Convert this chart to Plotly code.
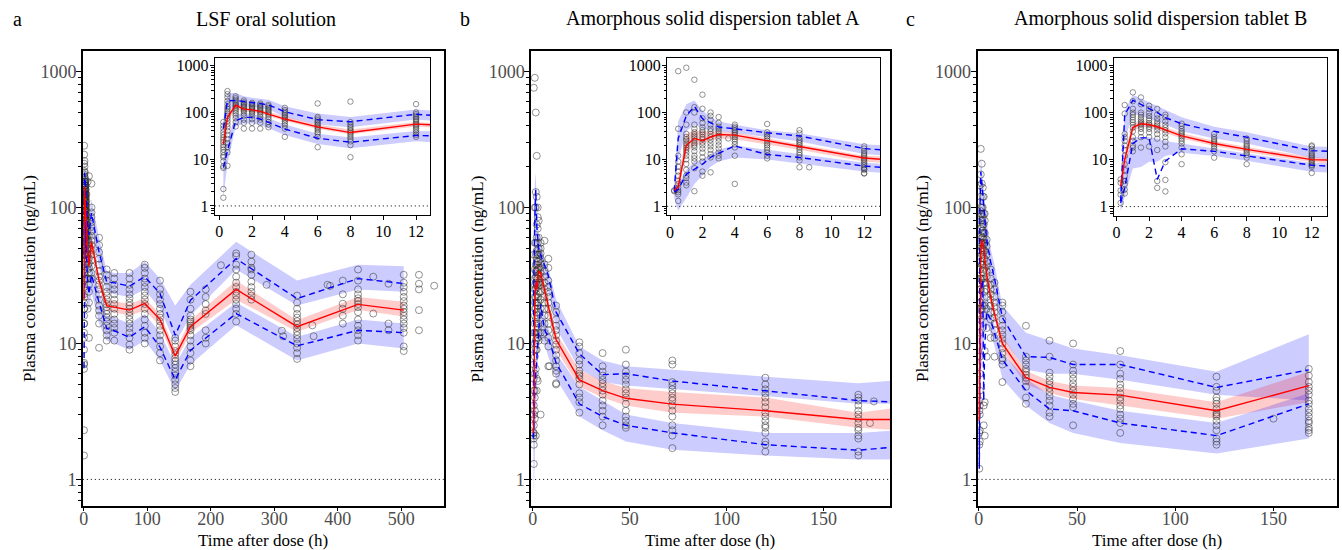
import plotly.graph_objects as go

W, H = 1342, 550
FONT = "Liberation Serif"
LLOQ = 1

# ---------------- Panel a: LSF oral solution ----------------
a_bin_t = [0.25, 0.5, 1, 1.5, 2, 2.5, 3, 4, 6, 8, 12, 24, 36, 48, 72, 96, 120, 144, 168, 240, 336, 432, 504]
a_med = [21, 78, 142, 117, 113, 105, 92, 72, 49, 37, 56, 29, 19, 18.6, 17.6, 19.7, 15, 8.1, 13.3, 25, 13.3, 19.4, 17.6]
a_p95 = [45, 177, 180, 170, 162, 155, 145, 103, 70, 63, 91, 47, 28.4, 27.9, 26.4, 31, 23.3, 11.5, 20.8, 42, 21.4, 30, 27.6]
a_p05 = [6.6, 15, 66, 78, 78, 72, 61, 44, 28, 23, 32, 20, 12.9, 12.4, 11.1, 13.3, 9.4, 5.4, 8.9, 16.6, 9.6, 12.5, 12]
a_p95_lo = [28, 110, 140, 135, 130, 122, 115, 80, 55, 48, 70, 36, 24, 23, 22, 25, 18, 10, 16, 35, 19, 25, 24]
a_p95_hi = [70, 260, 260, 220, 205, 195, 185, 135, 95, 80, 115, 60, 34, 33, 33, 40, 30, 19, 27, 56, 29, 38, 37]
a_med_lo = [16, 60, 120, 105, 100, 95, 85, 65, 44, 34, 50, 26, 17.5, 17, 16, 17.5, 13.5, 7.3, 12, 21, 12.2, 17.6, 15.8]
a_med_hi = [28, 95, 160, 130, 125, 115, 105, 82, 55, 43, 62, 32, 21, 20.5, 19.5, 21.5, 16.5, 9, 14.8, 29, 14.8, 22, 20.3]
a_p05_lo = [1.5, 8, 50, 58, 58, 54, 46, 33, 21, 17, 24, 14, 10.5, 10, 9, 10.5, 7.5, 4.5, 7, 13.6, 7.5, 10, 9.2]
a_p05_hi = [10, 25, 90, 95, 92, 85, 75, 55, 35, 29, 40, 24, 16, 15.5, 14, 16.5, 12, 7, 11, 20, 11.2, 15, 14]

a_obs_t = [0.25, 0.5, 1, 1.5, 2, 2.5, 3, 4, 6, 8, 12, 24, 36, 48, 72, 96, 120, 144, 168, 192, 240, 264, 336, 432, 504, 528]
a_obs_c = [
    [1.5, 2.3, 6.5, 7, 9, 11, 12, 14, 16, 18, 20, 23, 26, 29, 33, 38, 45, 52, 62],
    [7.2, 14, 18, 22, 27, 33, 40, 48, 56, 65, 75, 85, 95, 105, 118, 130, 150, 175, 210, 245, 285],
    [50, 62, 75, 85, 95, 105, 115, 125, 135, 145, 155, 170, 185, 200, 220],
    [45, 60, 70, 85, 95, 105, 112, 120, 128, 135, 145, 155, 165, 180],
    [45, 60, 72, 85, 95, 102, 110, 118, 125, 132, 140, 150, 160],
    [45, 60, 70, 80, 90, 98, 105, 112, 120, 128, 136, 145, 155],
    [48, 55, 62, 72, 80, 88, 95, 102, 110, 118, 125, 135, 145],
    [30, 45, 52, 58, 64, 70, 76, 82, 88, 95, 103, 112, 125],
    [18, 30, 35, 38, 42, 46, 50, 54, 58, 63, 68, 74, 80, 155],
    [11, 20, 24, 27, 30, 33, 36, 39, 42, 46, 50, 55, 62, 170],
    [30, 33, 37, 41, 45, 49, 53, 57, 62, 67, 72, 78, 85, 92, 100, 150],
    [9.3, 14, 16, 17.5, 19, 21, 23, 25, 27, 29, 31, 34, 38, 42, 47, 53, 60],
    [10.5, 11.5, 12.5, 13.5, 14.5, 15.5, 16.5, 17.5, 18.5, 19.5, 21, 22.5, 24, 26, 29, 32, 35],
    [10.5, 12, 13, 14, 15, 16.5, 18, 19.5, 21, 23, 25, 27, 30, 33],
    [9, 9.8, 11, 12, 13, 14, 15, 16, 17, 18, 19, 20, 21.5, 23, 25, 27, 30, 33],
    [10, 11, 12, 13.5, 15, 16.5, 18, 19.5, 21, 22.5, 24, 26, 28, 30, 33, 36, 38],
    [7.5, 8.5, 9.5, 10.5, 11.5, 12.5, 13.5, 14.5, 15.5, 16.5, 18, 19.5, 21, 23, 25, 29],
    [4.4, 4.7, 5, 5.4, 5.8, 6.2, 6.6, 7, 7.4, 7.8, 8.3, 8.8, 9.5, 10.5, 11],
    [6.8, 7.5, 8.5, 9.5, 10.5, 11.5, 12.5, 13, 13.5, 14, 14.5, 15, 16, 18, 21, 24],
    [10, 11, 12.5, 16.5, 17.5, 19.5, 22, 25],
    [14.5, 16.5, 18, 19.5, 21, 22.5, 24, 26, 28, 31, 35, 38, 44, 46],
    [21, 22.5, 24, 26, 28.5, 32, 35, 36, 40, 45],
    [7.7, 8.5, 9.3, 10, 10.8, 11.5, 12.2, 13, 13.8, 14.6, 15.5, 16.5, 18, 20, 22.5],
    [10.5, 11.5, 12.5, 13.5, 15, 17, 18.5, 19.5, 20.5, 21.5, 23, 25, 29, 35],
    [8.8, 9.5, 12, 13, 14, 15, 16, 17, 18, 19, 20.5, 22, 24, 26, 28, 32],
    [12.5, 17.6, 25, 27.5, 32],
]
a_extra_t = [216, 288, 312, 314, 360, 362, 384, 388, 408, 408, 408, 408, 408, 408, 456, 456, 480, 480, 480, 552]
a_extra_c = [37.6, 27, 12.4, 11.3, 13.6, 11.3, 27, 26.5, 29, 23, 19.6, 18, 16, 14, 31, 16.6, 27.5, 14, 12.5, 26.6]

# ---------------- Panel b: tablet A ----------------
b_bin_t = [0.25, 0.5, 1, 1.5, 2, 2.5, 3, 4, 6, 8, 12, 24, 36, 48, 72, 120, 168, 190]
b_med = [2.2, 2.6, 20, 28, 25, 30, 34, 33, 25, 19, 10.7, 5.4, 4.5, 3.95, 3.58, 3.2, 2.76, 2.76]
b_p95 = [2.1, 28, 85, 135, 74, 61, 49, 45, 37, 31.6, 17, 8.4, 5.9, 6.0, 5.3, 4.5, 3.8, 3.7]
b_p05 = [2.0, 2.3, 4.8, 6.2, 7.9, 11, 13.5, 19.4, 12.7, 11, 7.2, 3.6, 2.9, 2.5, 2.2, 1.8, 1.64, 1.75]
b_p95_lo = [1.8, 10, 40, 55, 45, 42, 40, 37, 30, 24, 13, 6.5, 5.2, 4.9, 4.6, 4.1, 3.6, 3.6]
b_p95_hi = [3, 65, 150, 180, 110, 80, 65, 55, 42, 36, 21, 9.5, 7.5, 6.8, 6.4, 5.7, 5.1, 5.4]
b_med_lo = [1.8, 2, 14, 20, 21, 25, 28, 27, 21, 16, 9, 4.8, 4, 3.5, 3.1, 2.9, 2.4, 2.3]
b_med_hi = [2.8, 4, 35, 42, 40, 40, 40, 38, 28, 21, 12, 6.4, 5.3, 4.7, 4.4, 4.0, 3.1, 3.4]
b_p05_lo = [1.5, 0.8, 1.5, 3, 4.5, 7, 9, 11, 10, 8, 5.5, 2.9, 2.3, 1.9, 1.65, 1.5, 1.4, 1.4]
b_p05_hi = [2.5, 3, 6, 9, 10, 13, 16, 20, 16, 13, 8.5, 4.8, 3.8, 3.0, 2.6, 2.2, 2.2, 2.3]

b_obs_t = [0.25, 0.5, 1, 1.5, 2, 2.5, 3, 4, 6, 8, 12, 24, 36, 48, 72, 120, 168]
b_obs_c = [
    [2.1, 2.2],
    [1.3, 1.8, 2, 2.2, 2.5, 3, 3.5, 4.5, 5.5, 7, 9, 12, 45, 760],
    [2.8, 3.2, 4, 4.5, 6, 8, 10, 12, 14, 16, 18, 20, 22, 25, 27, 30, 35, 55, 100, 900],
    [2.1, 6.5, 9, 10.5, 12, 15, 18, 20, 22, 25, 28, 31, 34, 38, 45, 55, 100, 130, 500],
    [4.5, 5.5, 9, 11, 14, 17, 20, 23, 27, 30, 34, 38, 42, 48, 60, 75, 120, 240],
    [5.3, 11, 13, 16, 19, 22, 26, 30, 35, 40, 45, 55, 70, 85, 100],
    [10.5, 12, 14, 17, 20, 24, 28, 32, 36, 40, 45, 50, 60, 80],
    [3, 12, 18, 21, 24, 27, 30, 33, 36, 39, 42, 46, 50, 55],
    [10.5, 12, 14, 16, 18, 20, 22, 25, 28, 31, 34, 38, 57],
    [6.8, 9.5, 11, 12.5, 14, 16, 18, 20, 22, 24, 26, 29, 36, 42],
    [5, 5.1, 6, 6.3, 6.8, 7.5, 8.2, 9, 9.8, 10.5, 11.5, 12.5, 13.5, 15, 17, 19],
    [3.1, 3.7, 4, 4.3, 5, 5.5, 5.8, 6, 6.3, 7, 7.5, 8.5, 9.5, 10.2],
    [2.5, 2.9, 3.2, 3.5, 3.8, 4.2, 4.5, 4.8, 5.1, 5.4, 5.8, 6.2, 6.8, 8.5],
    [2.4, 2.5, 2.7, 2.9, 3.2, 3.6, 4, 4.3, 4.6, 5, 5.4, 5.8, 6.2, 7, 9],
    [1.7, 2.1, 2.3, 2.5, 2.9, 3.2, 3.5, 3.8, 4.0, 4.3, 4.6, 4.9, 5.2, 7.0, 7.5],
    [1.6, 1.8, 1.9, 2.2, 2.4, 2.5, 2.7, 2.9, 3.1, 3.4, 3.7, 4, 4.3, 4.6, 5.0, 5.6],
    [1.5, 1.6, 2.0, 2.1, 2.3, 2.4, 2.6, 2.8, 3.0, 3.2, 3.5, 3.8, 4.0, 4.2],
]
b_extra_t = [3.6, 8.6, 174, 176]
b_extra_c = [28, 6.8, 2.6, 3.75]

# ---------------- Panel c: tablet B ----------------
c_bin_t = [0.25, 0.5, 1, 1.5, 2, 2.5, 3, 4, 6, 8, 12, 24, 36, 48, 72, 121, 168]
c_med = [2.7, 10, 48, 58, 55, 50, 43, 32, 22, 16.5, 10, 5.6, 4.75, 4.36, 4.17, 3.2, 4.9]
c_p95 = [1.3, 90, 183, 150, 127, 100, 78, 58, 40, 30, 15.5, 8, 7.9, 7.0, 7.0, 4.75, 6.4]
c_p05 = [1.2, 2.5, 22, 29, 29, 3.8, 9.3, 17, 15, 11.9, 7.6, 4.5, 3.3, 3.2, 2.6, 2.1, 3.6]
c_p95_lo = [0.8, 25, 95, 85, 75, 65, 55, 40, 28, 22, 11, 6.4, 6, 6, 5.4, 4.2, 3.8]
c_p95_hi = [4, 110, 240, 200, 170, 140, 115, 80, 50, 38, 19, 12, 10.5, 9.2, 8.2, 6.2, 11.7]
c_med_lo = [2, 6, 40, 50, 48, 43, 37, 28, 19.5, 14.5, 8.8, 5, 4.3, 3.9, 3.5, 2.8, 3.7]
c_med_hi = [3.5, 15, 58, 66, 62, 56, 49, 37, 25, 18.5, 11.4, 6.3, 5.3, 4.9, 4.7, 3.7, 6.2]
c_p05_lo = [0.8, 1.5, 6.5, 7, 9, 9, 12, 14, 12, 9.5, 5.5, 3.5, 2.6, 2.2, 1.85, 1.55, 2.0]
c_p05_hi = [2, 8, 30, 30, 30, 28, 25, 22, 17, 13.5, 8.5, 5.5, 4.2, 3.8, 3.2, 2.6, 4.3]

c_obs_t = [0.25, 0.5, 1, 1.5, 2, 2.5, 3, 4, 6, 8, 12, 24, 36, 48, 72, 121, 168]
c_obs_c = [
    [1.2, 1.8, 2.2, 3.2, 3.8],
    [1.9, 2.3, 3, 3.5, 4.5, 6, 8, 12, 16, 20, 25, 30, 35, 95, 145],
    [15, 18, 20, 25, 30, 40, 48, 55, 62, 70, 80, 90, 100, 120, 175, 270],
    [18, 30, 38, 45, 50, 55, 60, 65, 72, 80, 90, 100, 150, 210],
    [19, 30, 38, 45, 50, 55, 60, 68, 75, 85, 100, 120, 140],
    [2.5, 3.5, 16, 28, 35, 42, 48, 53, 58, 65, 75, 90, 120],
    [2.1, 3.7, 8.8, 19, 24, 30, 36, 42, 48, 55, 65, 80, 90],
    [8, 13, 18, 22, 25, 28, 31, 34, 37, 40, 45, 52, 58],
    [11, 15, 17, 19, 21, 23, 25, 27, 30, 35],
    [8, 11, 12.5, 14, 15.5, 17, 18.5, 20, 22, 25, 28],
    [5.2, 7, 7.5, 7.8, 8.5, 9.2, 10, 10.8, 11.6, 12.5, 13.5, 15, 17, 19, 20],
    [3.6, 4, 4.8, 5.3, 5.6, 5.9, 6.2, 6.5, 7, 7.5, 8, 13.5],
    [2.9, 3.1, 3.5, 3.8, 4.1, 4.4, 4.7, 5, 5.3, 5.7, 6.1, 8, 10.5],
    [2.5, 3.4, 3.6, 3.9, 4.2, 4.5, 4.8, 5.1, 5.5, 5.9, 6.3, 7, 10],
    [2.2, 2.6, 2.8, 3.0, 3.3, 3.5, 3.8, 4.0, 4.3, 4.7, 5.0, 5.5, 6.0, 7.0, 8.8],
    [1.8, 1.9, 2.0, 2.3, 2.5, 2.7, 2.9, 3.0, 3.1, 3.3, 3.6, 3.8, 4.0, 4.5, 4.8, 5.7],
    [2.2, 2.3, 2.4, 2.6, 2.7, 2.9, 3.1, 3.3, 3.6, 3.8, 4.2, 4.5, 4.8, 5.2, 5.8, 6.5],
]
c_extra_t = [150]
c_extra_c = [2.8]

titles = ["LSF oral solution", "Amorphous solid dispersion tablet A", "Amorphous solid dispersion tablet B"]
letters = ["a", "b", "c"]
y_tick_vals = [1, 10, 100, 1000]
y_minor_vals = [0.6, 0.7, 0.8, 0.9] + [m * d for d in (1, 10, 100) for m in range(2, 10)]

# ---------------- layout geometry (pixels) ----------------
geo = [
    dict(main=(80, 441.7, 50, 506), inset=(212.3, 428.3, 57.3, 214.3),
         mxr=[-1.6, 567], ixr=[-0.27, 12.87], mdt=100,
         letter_x=15, title_x=264, ytitle_x=26.5, xtitle_x=261),
    dict(main=(529.3, 889.3, 50, 506), inset=(665.7, 879.3, 57.3, 214.7),
         mxr=[-0.9, 184.5], ixr=[-0.18, 13.0], mdt=50,
         letter_x=463, title_x=712, ytitle_x=476, xtitle_x=709),
    dict(main=(976.7, 1337.3, 50, 506), inset=(1113.3, 1327.3, 57.3, 215),
         mxr=[-0.66, 182.5], ixr=[-0.17, 12.96], mdt=50,
         letter_x=910, title_x=1160, ytitle_x=921.5, xtitle_x=1157),
]
MAIN_YR = [-0.196, 3.152]
INSET_YR = [-0.192, 3.158]

data = [
    dict(bt=a_bin_t, med=a_med, p95=a_p95, p05=a_p05, p95lo=a_p95_lo, p95hi=a_p95_hi,
         medlo=a_med_lo, medhi=a_med_hi, p05lo=a_p05_lo, p05hi=a_p05_hi,
         ot=a_obs_t, oc=a_obs_c, et=a_extra_t, ec=a_extra_c),
    dict(bt=b_bin_t, med=b_med, p95=b_p95, p05=b_p05, p95lo=b_p95_lo, p95hi=b_p95_hi,
         medlo=b_med_lo, medhi=b_med_hi, p05lo=b_p05_lo, p05hi=b_p05_hi,
         ot=b_obs_t, oc=b_obs_c, et=b_extra_t, ec=b_extra_c),
    dict(bt=c_bin_t, med=c_med, p95=c_p95, p05=c_p05, p95lo=c_p95_lo, p95hi=c_p95_hi,
         medlo=c_med_lo, medhi=c_med_hi, p05lo=c_p05_lo, p05hi=c_p05_hi,
         ot=c_obs_t, oc=c_obs_c, et=c_extra_t, ec=c_extra_c),
]

fig = go.Figure()
BLUE_FILL = "rgba(0,0,255,0.2)"
RED_FILL = "rgba(255,0,0,0.2)"
PT_COLOR = "rgba(40,40,40,0.5)"


def sfx(i):
    return "" if i == 1 else str(i)


def add_traces(d, ax, msize):
    xa, ya = "x" + sfx(ax), "y" + sfx(ax)
    t = d["bt"]
    for lo, hi, col in ((d["p95lo"], d["p95hi"], BLUE_FILL),
                        (d["medlo"], d["medhi"], RED_FILL),
                        (d["p05lo"], d["p05hi"], BLUE_FILL)):
        fig.add_trace(go.Scatter(x=t + t[::-1], y=hi + lo[::-1], fill="toself", fillcolor=col,
                                 line=dict(width=0), mode="lines", hoverinfo="skip",
                                 showlegend=False, xaxis=xa, yaxis=ya))
    xs, ys = [], []
    for tt, cc in zip(d["ot"], d["oc"]):
        xs += [tt] * len(cc)
        ys += cc
    xs += d["et"]
    ys += d["ec"]
    fig.add_trace(go.Scatter(x=xs, y=ys, mode="markers", showlegend=False,
                             marker=dict(symbol="circle-open", size=msize, color=PT_COLOR,
                                         line=dict(width=1, color=PT_COLOR)),
                             xaxis=xa, yaxis=ya))
    for yv in (d["p95"], d["p05"]):
        fig.add_trace(go.Scatter(x=t, y=yv, mode="lines", showlegend=False,
                                 line=dict(color="#0000ff", width=1.4, dash="6px,4px"),
                                 xaxis=xa, yaxis=ya))
    fig.add_trace(go.Scatter(x=t, y=d["med"], mode="lines", showlegend=False,
                             line=dict(color="#ff0000", width=1.4), xaxis=xa, yaxis=ya))


def dom_x(p):
    return [p[0] / W, p[1] / W]


def dom_y(p):
    return [1 - p[3] / H, 1 - p[2] / H]


layout = {}
shapes = []
annotations = []
for k in range(3):
    g, d = geo[k], data[k]
    mi, ii = 2 * k + 1, 2 * k + 2
    add_traces(d, mi, 7)
    add_traces(d, ii, 5.5)
    layout["xaxis" + sfx(mi)] = dict(
        domain=dom_x(g["main"]), anchor="y" + sfx(mi), range=g["mxr"], tick0=0, dtick=g["mdt"],
        showline=True, linecolor="black", linewidth=1.6, mirror=True, showgrid=False, zeroline=False,
        ticks="outside", ticklen=3, tickwidth=1, tickcolor="black", ticklabelstandoff=-7,
        tickfont=dict(family=FONT, size=18, color="#4d4d4d"))
    layout["yaxis" + sfx(mi)] = dict(
        domain=dom_y(g["main"]), anchor="x" + sfx(mi), type="log", range=MAIN_YR,
        tickvals=y_tick_vals, ticktext=[str(v) for v in y_tick_vals],
        showline=True, linecolor="black", linewidth=1.6, mirror=True, showgrid=False, zeroline=False,
        ticks="outside", ticklen=5, tickwidth=1, tickcolor="black", ticklabelstandoff=-4,
        minor=dict(tickvals=y_minor_vals, ticks="outside", ticklen=3, tickcolor="black", showgrid=False),
        tickfont=dict(family=FONT, size=18, color="#4d4d4d"))
    layout["xaxis" + sfx(ii)] = dict(
        domain=dom_x(g["inset"]), anchor="y" + sfx(ii), range=g["ixr"], tick0=0, dtick=2,
        showline=True, linecolor="black", linewidth=1.3, mirror=True, showgrid=False, zeroline=False,
        ticks="outside", ticklen=4, tickwidth=1, tickcolor="black", ticklabelstandoff=-2,
        tickfont=dict(family=FONT, size=16, color="black"))
    layout["yaxis" + sfx(ii)] = dict(
        domain=dom_y(g["inset"]), anchor="x" + sfx(ii), type="log", range=INSET_YR,
        tickvals=y_tick_vals, ticktext=[str(v) for v in y_tick_vals],
        showline=True, linecolor="black", linewidth=1.3, mirror=True, showgrid=False, zeroline=False,
        ticks="outside", ticklen=4, tickwidth=1, tickcolor="black", ticklabelstandoff=-2,
        minor=dict(tickvals=y_minor_vals, ticks="outside", ticklen=2.5, tickcolor="black", showgrid=False),
        tickfont=dict(family=FONT, size=16, color="black"))
    for ax in (mi, ii):
        shapes.append(dict(type="line", xref="x" + sfx(ax) + " domain", yref="y" + sfx(ax),
                           x0=0, x1=1, y0=LLOQ, y1=LLOQ,
                           line=dict(color="black", width=1, dash="1px,3px")))
    annotations += [
        dict(text=letters[k], x=g["letter_x"] / W, y=1 - 18 / H, xref="paper", yref="paper",
             showarrow=False, xanchor="center", yanchor="middle", font=dict(family=FONT, size=20, color="black")),
        dict(text=titles[k], x=g["title_x"] / W, y=1 - 18 / H, xref="paper", yref="paper",
             showarrow=False, xanchor="center", yanchor="middle", font=dict(family=FONT, size=20, color="black")),
        dict(text="Time after dose (h)", x=g["xtitle_x"] / W, y=1 - 540 / H, xref="paper", yref="paper",
             showarrow=False, xanchor="center", yanchor="middle", font=dict(family=FONT, size=17, color="black")),
        dict(text="Plasma concentration (ng/mL)", x=g["ytitle_x"] / W, y=1 - 278 / H, xref="paper",
             yref="paper", textangle=-90, showarrow=False, xanchor="center", yanchor="middle",
             font=dict(family=FONT, size=17, color="black")),
    ]

fig.update_layout(width=W, height=H, margin=dict(l=0, r=0, t=0, b=0),
                  paper_bgcolor="white", plot_bgcolor="white", showlegend=False,
                  shapes=shapes, annotations=annotations, font=dict(family=FONT), **layout)
fig.write_html("out.html", config={"displayModeBar": False},
               post_script="document.body.style.margin='0';document.body.style.padding='0';")
